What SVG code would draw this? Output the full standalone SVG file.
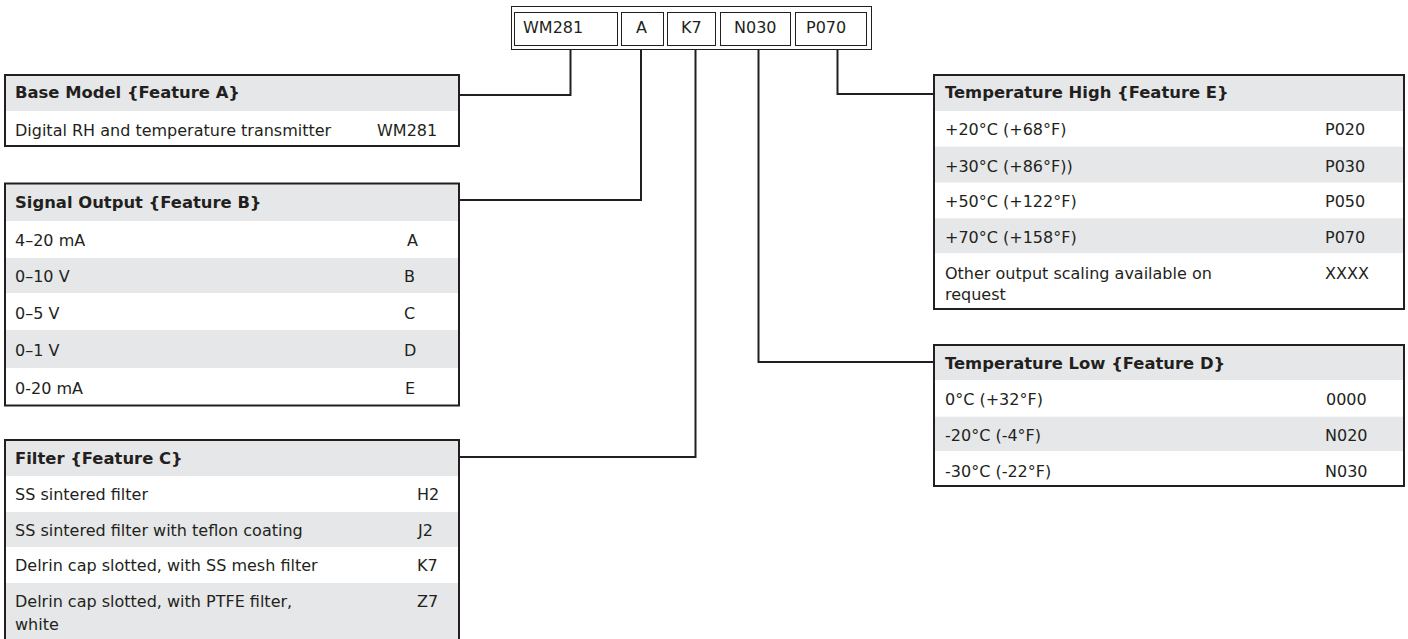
<svg xmlns="http://www.w3.org/2000/svg" width="1408" height="639" viewBox="0 0 1408 639">
<style>
text{font-family:"DejaVu Sans","Liberation Sans",sans-serif;font-size:16px;fill:#231f20}
.h{font-weight:bold;font-size:16.4px}
.g{fill:#e6e7e8}
.w{fill:#ffffff}
.box{fill:none;stroke:#231f20;stroke-width:2}
.cb{fill:#ffffff;stroke:#231f20;stroke-width:1}
.con{fill:none;stroke:#231f20;stroke-width:2}
</style>
<rect width="1408" height="639" fill="#ffffff"/>

<g id="code">
<rect class="cb" x="511.5" y="6.5" width="360" height="43"/>
<rect class="cb" x="514.5" y="12.5" width="103" height="33"/>
<rect class="cb" x="621.5" y="12.5" width="42" height="33"/>
<rect class="cb" x="667.5" y="12.5" width="48" height="33"/>
<rect class="cb" x="720.5" y="12.5" width="70" height="33"/>
<rect class="cb" x="795.5" y="12.5" width="71" height="33"/>
<text x="523" y="33">WM281</text>
<text x="636" y="33">A</text>
<text x="681" y="33">K7</text>
<text x="734" y="33">N030</text>
<text x="806" y="33">P070</text>
</g>

<g id="connectors">
<path class="con" d="M570.5 50 V95 H459"/>
<path class="con" d="M641 50 V200 H459"/>
<path class="con" d="M695.5 50 V457 H459"/>
<path class="con" d="M758.5 50 V362 H934"/>
<path class="con" d="M837.5 50 V94 H934"/>
</g>

<g id="base-model">
<rect class="g" x="5" y="75" width="454" height="36"/>
<rect class="w" x="5" y="111" width="454" height="35"/>
<rect class="box" x="5" y="75" width="454" height="71"/>
<text class="h" x="15" y="98">Base Model {Feature A}</text>
<text x="15" y="135.5">Digital RH and temperature transmitter</text>
<text x="377" y="135.5">WM281</text>
</g>

<g id="signal-output">
<rect class="g" x="5" y="183.5" width="454" height="37.5"/>
<rect class="w" x="5" y="221" width="454" height="37"/>
<rect class="g" x="5" y="258" width="454" height="35"/>
<rect class="w" x="5" y="293" width="454" height="37"/>
<rect class="g" x="5" y="330" width="454" height="38"/>
<rect class="w" x="5" y="368" width="454" height="37.5"/>
<rect class="box" x="5" y="183.5" width="454" height="222"/>
<text class="h" x="15" y="208">Signal Output {Feature B}</text>
<text x="15" y="246">4–20 mA</text><text x="407" y="246">A</text>
<text x="15" y="282">0–10 V</text><text x="404" y="282">B</text>
<text x="15" y="319">0–5 V</text><text x="404" y="319">C</text>
<text x="15" y="356">0–1 V</text><text x="404" y="356">D</text>
<text x="15" y="394">0-20 mA</text><text x="405" y="394">E</text>
</g>

<g id="filter">
<rect class="g" x="5" y="440" width="454" height="36"/>
<rect class="w" x="5" y="476" width="454" height="36"/>
<rect class="g" x="5" y="512" width="454" height="35"/>
<rect class="w" x="5" y="547" width="454" height="36"/>
<rect class="g" x="5" y="583" width="454" height="70"/>
<rect class="box" x="5" y="440" width="454" height="220"/>
<text class="h" x="15" y="464">Filter {Feature C}</text>
<text x="15" y="500">SS sintered filter</text><text x="417" y="500">H2</text>
<text x="15" y="536">SS sintered filter with teflon coating</text><text x="418" y="536">J2</text>
<text x="15" y="571">Delrin cap slotted, with SS mesh filter</text><text x="417" y="571">K7</text>
<text x="15" y="607">Delrin cap slotted, with PTFE filter,</text><text x="417" y="607">Z7</text>
<text x="15" y="630">white</text>
</g>

<g id="temperature-high">
<rect class="g" x="934" y="75" width="470" height="36"/>
<rect class="w" x="934" y="111" width="470" height="35.7"/>
<rect class="g" x="934" y="146.7" width="470" height="36"/>
<rect class="w" x="934" y="182.7" width="470" height="35.6"/>
<rect class="g" x="934" y="218.3" width="470" height="35"/>
<rect class="w" x="934" y="253.3" width="470" height="55.7"/>
<rect class="box" x="934" y="75" width="470" height="234"/>
<text class="h" x="945" y="98">Temperature High {Feature E}</text>
<text x="945" y="135">+20°C (+68°F)</text><text x="1325" y="135">P020</text>
<text x="945" y="171.5">+30°C (+86°F))</text><text x="1325" y="171.5">P030</text>
<text x="945" y="207">+50°C (+122°F)</text><text x="1325" y="207">P050</text>
<text x="945" y="242.5">+70°C (+158°F)</text><text x="1325" y="242.5">P070</text>
<text x="945" y="278.5">Other output scaling available on</text><text x="1325" y="278.5">XXXX</text>
<text x="945" y="300">request</text>
</g>

<g id="temperature-low">
<rect class="g" x="934" y="345" width="470" height="35"/>
<rect class="w" x="934" y="380" width="470" height="36.7"/>
<rect class="g" x="934" y="416.7" width="470" height="34.3"/>
<rect class="w" x="934" y="451" width="470" height="35"/>
<rect class="box" x="934" y="345" width="470" height="141"/>
<text class="h" x="945" y="369">Temperature Low {Feature D}</text>
<text x="945" y="405">0°C (+32°F)</text><text x="1326" y="405">0000</text>
<text x="945" y="441">-20°C (-4°F)</text><text x="1325" y="441">N020</text>
<text x="945" y="476.5">-30°C (-22°F)</text><text x="1325" y="476.5">N030</text>
</g>
</svg>
